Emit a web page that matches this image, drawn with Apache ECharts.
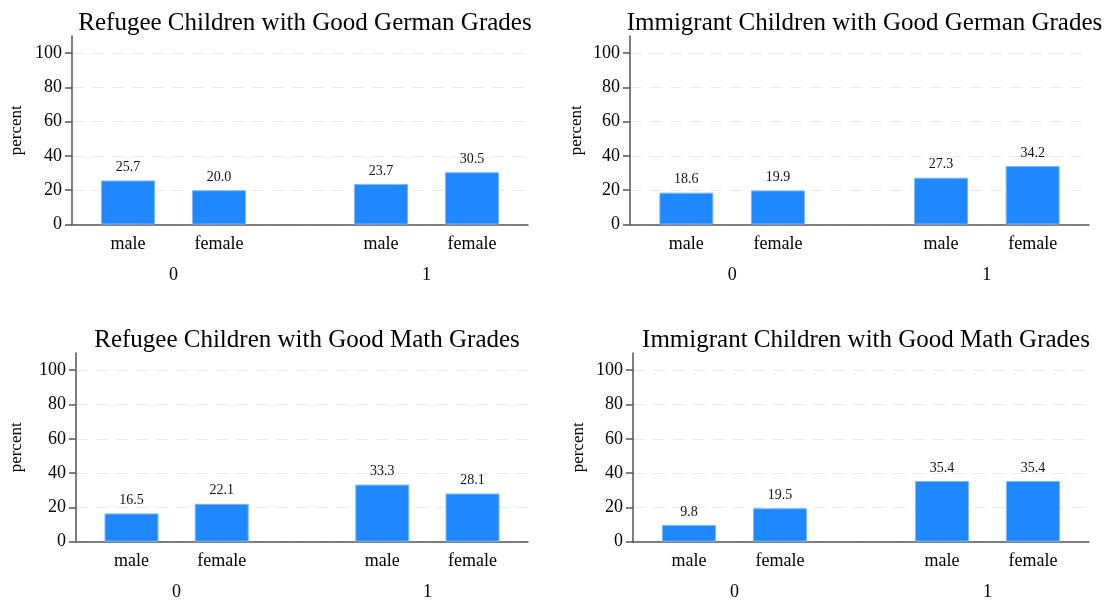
<!DOCTYPE html>
<html>
<head>
<meta charset="utf-8">
<script src="https://cdn.jsdelivr.net/npm/echarts@6/dist/echarts.min.js"></script>
<style>
html,body{margin:0;padding:0;background:#fff;}
#chart{width:1107px;height:603px;}
</style>
</head>
<body>
<div id="chart"></div>
<script>
// ---- data ----
const groups = ['0', '1'];
const sexes = ['male', 'female'];
const yTicks = [0, 20, 40, 60, 80, 100];
const titles = [
  'Refugee Children with Good German Grades',
  'Immigrant Children with Good German Grades',
  'Refugee Children with Good Math Grades',
  'Immigrant Children with Good Math Grades'
];
// order: group0 male, group0 female, group1 male, group1 female
const refugeeGerman   = [25.7, 20.0, 23.7, 30.5];
const immigrantGerman = [18.6, 19.9, 27.3, 34.2];
const refugeeMath     = [16.5, 22.1, 33.3, 28.1];
const immigrantMath   = [9.8, 19.5, 35.4, 35.4];
const panelData = [refugeeGerman, immigrantGerman, refugeeMath, immigrantMath];

// ---- layout / style ----
const GROUP_STEP = 2.78;   // distance between groups in bar slots
const EDGE = 0.615;        // outer margin in bar slots
const FONT = '"Liberation Serif", "Times New Roman", serif';
const BAR_COLOR = '#1f87ff';
const panels = [
  {left: 72,  right: 579, top: 36,  height: 188.5, nameGap: 47, titleX: 300,   titleTop: 6},
  {left: 630, right: 18,  top: 36,  height: 188.5, nameGap: 45, titleX: 859.5, titleTop: 6},
  {left: 76,  right: 579, top: 353, height: 188.7, nameGap: 51, titleX: 302,   titleTop: 323},
  {left: 633, right: 18,  top: 353, height: 188.7, nameGap: 46, titleX: 861,   titleTop: 323}
];

function pos(g, s) { return g * GROUP_STEP + s; }
const barPositions = [];
const barLabels = {};
groups.forEach((g, gi) => sexes.forEach((s, si) => {
  const p = pos(gi, si);
  barPositions.push(p);
  barLabels[p.toFixed(3)] = s;
}));
const groupPositions = [];
const groupLabels = {};
groups.forEach((g, gi) => {
  const p = pos(gi, 0.5);
  groupPositions.push(p);
  groupLabels[p.toFixed(3)] = g;
});
const xMin = -EDGE;
const xMax = pos(groups.length - 1, sexes.length - 1) + EDGE;

const option = {
  animation: false,
  backgroundColor: '#ffffff',
  textStyle: {fontFamily: FONT},
  title: [], grid: [], xAxis: [], yAxis: [], series: []
};

panels.forEach((p, i) => {
  option.title.push({
    text: titles[i], left: p.titleX, top: p.titleTop, textAlign: 'center',
    textStyle: {fontFamily: FONT, fontSize: 25, fontWeight: 'normal', color: '#000'}
  });
  option.grid.push({left: p.left, right: p.right, top: p.top, height: p.height, containLabel: false});
  option.xAxis.push({
    type: 'value', gridIndex: i, min: xMin, max: xMax, position: 'bottom',
    axisLine: {show: true, onZero: false, lineStyle: {color: '#555', width: 1.5}},
    axisTick: {show: false},
    splitLine: {show: false},
    axisLabel: {
      customValues: barPositions, margin: 11,
      fontFamily: FONT, fontSize: 18, color: '#000',
      formatter: v => barLabels[Number(v).toFixed(3)] || ''
    }
  });
  option.xAxis.push({
    type: 'value', gridIndex: i, min: xMin, max: xMax, position: 'bottom', offset: 32,
    axisLine: {show: false, onZero: false}, axisTick: {show: false}, splitLine: {show: false},
    axisLabel: {
      customValues: groupPositions, margin: 10,
      fontFamily: FONT, fontSize: 18, color: '#000',
      formatter: v => groupLabels[Number(v).toFixed(3)] || ''
    }
  });
  option.yAxis.push({
    type: 'value', gridIndex: i, min: 0, max: 110, interval: 20,
    name: 'percent', nameLocation: 'middle', nameGap: p.nameGap,
    nameTextStyle: {fontFamily: FONT, fontSize: 17, color: '#000'},
    axisLine: {show: true, onZero: false, lineStyle: {color: '#555', width: 1.5}},
    axisTick: {show: true, length: 7, customValues: yTicks, lineStyle: {color: '#555', width: 1.5}},
    axisLabel: {customValues: yTicks, margin: 10, fontFamily: FONT, fontSize: 18, color: '#000'},
    splitLine: {show: true, lineStyle: {color: '#ebebeb', width: 1.2, type: [12, 8]}}
  });
  option.series.push({
    type: 'bar', xAxisIndex: i * 2, yAxisIndex: i,
    barWidth: 54,
    data: panelData[i].map((v, k) => [barPositions[k], v]),
    itemStyle: {color: BAR_COLOR, borderColor: '#7db9ff', borderWidth: 1},
    label: {
      show: true, position: 'top', distance: 6,
      fontFamily: FONT, fontSize: 14, color: '#111',
      formatter: prm => prm.value[1].toFixed(1)
    }
  });
});

const chart = echarts.init(document.getElementById('chart'), null, {renderer: 'canvas'});
chart.setOption(option);
</script>
</body>
</html>
